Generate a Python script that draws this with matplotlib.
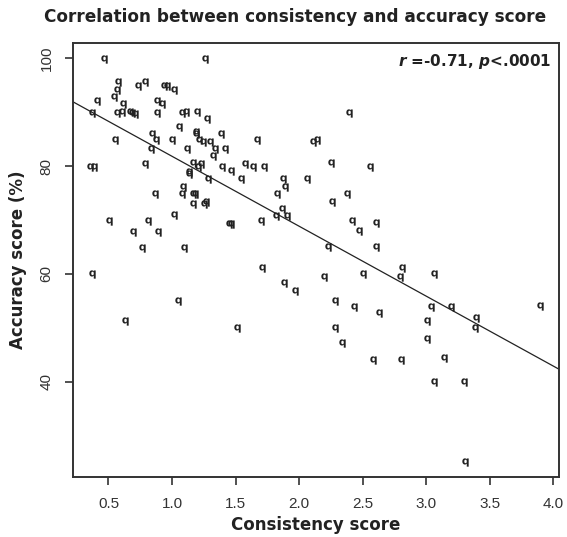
import matplotlib
matplotlib.use("Agg")
import matplotlib.pyplot as plt
import numpy as np

plt.rcParams['font.family'] = ['DejaVu Sans']
plt.rcParams['mathtext.fontset'] = 'custom'
plt.rcParams['mathtext.rm'] = 'DejaVu Sans'
plt.rcParams['mathtext.it'] = 'DejaVu Sans:italic:bold'
plt.rcParams['mathtext.bf'] = 'DejaVu Sans:bold'

consistency = [
    0.465, 1.257, 0.579, 0.567, 0.732, 0.791, 0.937, 0.958, 1.013, 0.541,
    0.407, 0.618, 0.879, 0.921, 0.374, 0.567, 0.606, 0.671, 0.689, 0.706,
    0.882, 1.080, 1.110, 1.200, 1.277, 1.057, 1.190, 1.192, 1.387, 0.845,
    0.878, 0.554, 0.997, 1.210, 1.240, 1.301, 1.338, 1.417, 1.116, 0.834,
    1.320, 1.672, 2.109, 2.144, 2.396, 2.251, 2.554, 1.163, 1.203, 1.228,
    0.786, 0.358, 0.390, 1.135, 1.136, 1.391, 1.464, 1.578, 1.639, 1.726,
    1.287, 1.544, 1.871, 1.886, 2.062, 1.084, 1.828, 2.373, 1.080, 1.165,
    1.183, 0.867, 1.165, 1.254, 1.269, 1.865, 1.818, 1.906, 1.014, 2.260,
    0.506, 0.811, 1.700, 1.448, 1.465, 2.416, 2.607, 2.473, 0.695, 0.891,
    0.765, 1.092, 2.229, 2.607, 0.368, 1.705, 1.883, 1.970, 2.196, 2.504,
    2.809, 2.795, 3.057, 1.045, 2.286, 2.428, 2.628, 3.035, 3.192, 3.002,
    3.393, 3.385, 3.893, 0.634, 1.513, 2.284, 2.340, 3.008, 2.583, 2.803,
    3.137, 3.063, 3.295, 3.301,
]
accuracy = [
    99.8, 99.8, 95.6, 94.2, 94.8, 95.6, 94.8, 94.8, 94.2, 92.9,
    92.1, 91.5, 92.1, 91.5, 89.9, 89.9, 90.0, 90.1, 89.9, 89.7,
    89.9, 89.9, 90.1, 90.1, 88.7, 87.3, 86.4, 86.0, 85.9, 85.9,
    84.8, 84.8, 84.8, 84.8, 84.5, 84.5, 83.1, 83.1, 83.1, 83.1,
    81.8, 84.8, 84.5, 84.8, 89.8, 80.6, 79.9, 80.6, 79.8, 80.3,
    80.4, 79.8, 79.8, 78.9, 78.6, 79.9, 79.0, 80.4, 79.8, 79.8,
    77.6, 77.6, 77.6, 76.2, 77.6, 76.2, 74.8, 74.8, 74.8, 74.8,
    74.8, 74.8, 72.9, 72.9, 73.4, 72.1, 70.8, 70.7, 71.0, 73.4,
    69.9, 69.9, 69.9, 69.2, 69.3, 69.9, 69.4, 67.9, 67.8, 67.8,
    64.8, 64.8, 64.9, 64.9, 59.9, 61.0, 58.3, 56.9, 59.5, 59.9,
    61.0, 59.5, 59.9, 54.9, 55.0, 53.8, 52.7, 53.8, 53.8, 51.3,
    51.9, 50.0, 54.0, 51.3, 50.0, 50.0, 47.1, 48.0, 44.1, 44.1,
    44.3, 39.9, 39.9, 25.0,
]

fit_intercept = 94.8
fit_slope = -12.98

x_ticks = [0.5, 1.0, 1.5, 2.0, 2.5, 3.0, 3.5, 4.0]
x_tick_labels = ["0.5", "1.0", "1.5", "2.0", "2.5", "3.0", "3.5", "4.0"]
y_ticks = [40, 60, 80, 100]
y_tick_labels = ["40", "60", "80", "100"]

title = "Correlation between consistency and accuracy score"
x_label = "Consistency score"
y_label = "Accuracy score (%)"
stat_text = r"$\mathit{r}$ =-0.71, $\mathit{p}$<.0001"

fig = plt.figure(figsize=(5.67, 5.37), dpi=100)
ax = fig.add_axes([0.1287, 0.1112, 0.9854 - 0.1287, 0.9205 - 0.1112])

ax.plot(consistency, accuracy, linestyle='none', marker=r'$\mathbf{q}$',
        markersize=6, color='#222222', markeredgewidth=0)

xlim = (0.221, 4.042)
ylim = (22.25, 102.9)
xl = np.array(xlim)
ax.plot(xl, fit_intercept + fit_slope * xl, color='#222222', linewidth=0.9)

ax.set_xlim(*xlim)
ax.set_ylim(*ylim)
ax.set_xticks(x_ticks)
ax.set_xticklabels(x_tick_labels, fontfamily='Liberation Sans', fontsize=11, color='#333333')
ax.set_yticks(y_ticks)
ax.set_yticklabels(y_tick_labels, fontfamily='Liberation Sans', fontsize=11, color='#333333',
                   rotation=90, va='center')
ax.tick_params(direction='out', length=6, width=1.2, color='#333333', pad=8)
for s in ax.spines.values():
    s.set_linewidth(1.4)
    s.set_color('#333333')

ax.set_xlabel(x_label, fontsize=12, fontweight='bold', color='#222222', labelpad=4)
ax.set_ylabel(y_label, fontsize=12, fontweight='bold', color='#222222', labelpad=9)

fig.text(0.52, 0.968, title, ha='center', va='center', fontsize=12.2,
         fontweight='bold', color='#222222')
ax.text(0.985, 0.978, stat_text, transform=ax.transAxes, ha='right', va='top',
        fontsize=11, fontweight='bold', color='#222222')

fig.savefig("out.png", dpi=100)
